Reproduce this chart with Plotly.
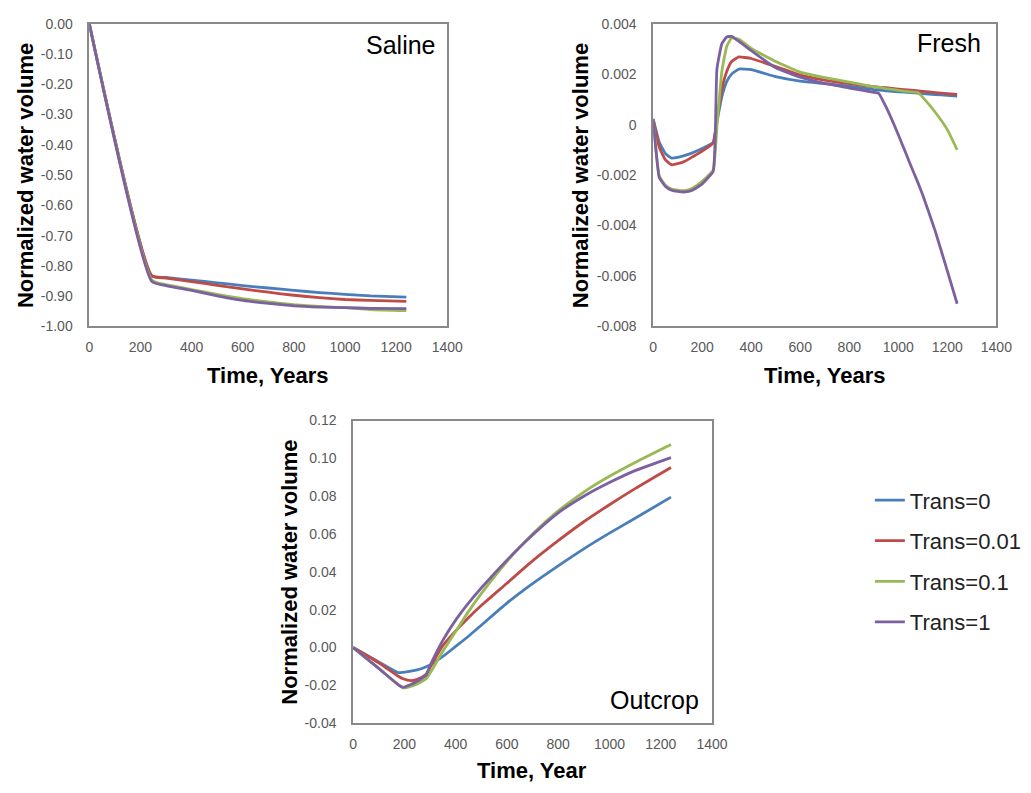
import plotly.graph_objects as go

# ---------------- data ----------------
series_names = ["Trans=0", "Trans=0.01", "Trans=0.1", "Trans=1"]
series_colors = ["#4a7ebb", "#be4b48", "#98b954", "#7d60a0"]

# Saline aquifer
saline_time = [0, 245, 300, 400, 500, 600, 700, 800, 900, 1000, 1100, 1240]
saline_t0 = [0, -0.833, -0.838, -0.847, -0.856, -0.865, -0.873, -0.881, -0.888, -0.894, -0.899, -0.903]
saline_t001 = [0, -0.833, -0.840, -0.852, -0.864, -0.876, -0.887, -0.897, -0.905, -0.911, -0.914, -0.917]
saline_t01 = [0, -0.847, -0.862, -0.878, -0.894, -0.908, -0.919, -0.928, -0.934, -0.938, -0.944, -0.948]
saline_t1 = [0, -0.852, -0.865, -0.881, -0.899, -0.914, -0.924, -0.932, -0.936, -0.938, -0.940, -0.941]

# Fresh aquifer
fresh_time = [0, 25, 50, 75, 100, 130, 160, 200, 245, 260, 280, 300, 320, 350, 400, 500,
              600, 700, 800, 900, 920, 950, 1000, 1050, 1080, 1100, 1150, 1200, 1240]
fresh_t0 = [0.00023, -0.0007, -0.00115, -0.00133, -0.0013, -0.00122, -0.00112, -0.00095, -0.0007,
            0.0001, 0.0011, 0.0017, 0.0020, 0.0022, 0.00218, 0.0019, 0.00172, 0.00162, 0.00152,
            0.00139, 0.00137, 0.00134, 0.0013, 0.00127, 0.00125, 0.00123, 0.00119, 0.00116, 0.00113]
fresh_t001 = [0.0002, -0.0009, -0.0014, -0.00159, -0.00155, -0.00145, -0.00128, -0.00105, -0.00073,
              0.0002, 0.0014, 0.0021, 0.0025, 0.00268, 0.00262, 0.0023, 0.00196, 0.00176, 0.00162,
              0.0015, 0.00148, 0.00146, 0.00141, 0.00137, 0.00134, 0.00132, 0.00127, 0.00123, 0.0012]
fresh_t01 = [0.0002, -0.00205, -0.0024, -0.00255, -0.0026, -0.00262, -0.00252, -0.00225, -0.0018,
             -0.0001, 0.0021, 0.0031, 0.00343, 0.00338, 0.00302, 0.0025, 0.00208, 0.00186, 0.00168,
             0.0015, 0.00148, 0.00143, 0.00136, 0.0013, 0.00127, 0.00108, 0.0005, -0.0002, -0.001]
fresh_t1 = [0.0002, -0.0021, -0.00245, -0.0026, -0.00265, -0.00267, -0.0026, -0.00235, -0.00185,
            0.0022, 0.0032, 0.00347, 0.0035, 0.0033, 0.00293, 0.00225, 0.00188, 0.00163, 0.00145,
            0.00128, 0.00124, 0.0007, -0.0004, -0.0016, -0.0023, -0.0028, -0.0042, -0.0058, -0.0071]

# Outcrop
outcrop_time = [0, 100, 175, 195, 225, 250, 285, 300, 350, 400, 450, 500, 600, 700, 800, 900, 1000, 1100, 1240]
outcrop_t0 = [0, -0.0076, -0.0132, -0.0131, -0.0125, -0.0118, -0.0101, -0.0092, -0.0047, 0.0006,
              0.006, 0.0118, 0.0235, 0.0338, 0.0432, 0.0522, 0.0605, 0.0683, 0.0795]
outcrop_t001 = [0, -0.008, -0.015, -0.0165, -0.0175, -0.0168, -0.0141, -0.0105, 0.001, 0.0088,
                0.0158, 0.0222, 0.034, 0.0458, 0.0565, 0.0665, 0.0755, 0.084, 0.0952]
outcrop_t01 = [0, -0.011, -0.0195, -0.0213, -0.0205, -0.0192, -0.0165, -0.0135, -0.002, 0.0085,
               0.019, 0.0285, 0.0455, 0.060, 0.0722, 0.0822, 0.0905, 0.0978, 0.1073]
outcrop_t1 = [0, -0.011, -0.0195, -0.021, -0.0195, -0.0178, -0.0145, -0.0096, 0.0038, 0.0145,
              0.0235, 0.0315, 0.0462, 0.0595, 0.0712, 0.080, 0.0872, 0.0935, 0.1004]

# tick labels
time_ticks = [0, 200, 400, 600, 800, 1000, 1200, 1400]
saline_ticks = [0.0, -0.1, -0.2, -0.3, -0.4, -0.5, -0.6, -0.7, -0.8, -0.9, -1.0]
saline_ticktext = ["0.00", "-0.10", "-0.20", "-0.30", "-0.40", "-0.50", "-0.60", "-0.70", "-0.80", "-0.90", "-1.00"]
fresh_ticks = [0.004, 0.002, 0, -0.002, -0.004, -0.006, -0.008]
fresh_ticktext = ["0.004", "0.002", "0", "-0.002", "-0.004", "-0.006", "-0.008"]
outcrop_ticks = [0.12, 0.10, 0.08, 0.06, 0.04, 0.02, 0.0, -0.02, -0.04]
outcrop_ticktext = ["0.12", "0.10", "0.08", "0.06", "0.04", "0.02", "0.00", "-0.02", "-0.04"]

# ---------------- figure ----------------
W, H = 1031, 793


def fx(px):
    return px / W


def fy(py):
    return 1 - py / H


fig = go.Figure()

panels = [
    ("x", "y", saline_time, [saline_t0, saline_t001, saline_t01, saline_t1], 0.5),
    ("x2", "y2", fresh_time, [fresh_t0, fresh_t001, fresh_t01, fresh_t1], 0.35),
    ("x3", "y3", outcrop_time, [outcrop_t0, outcrop_t001, outcrop_t01, outcrop_t1], 0.6),
]

for p, (xa, ya, t, ys, smooth) in enumerate(panels):
    for i, vals in enumerate(ys):
        fig.add_trace(go.Scatter(
            x=t, y=vals, mode="lines", xaxis=xa, yaxis=ya,
            name=series_names[i], legendgroup=series_names[i],
            showlegend=(p == 0),
            line=dict(color=series_colors[i], width=2.8, shape="spline", smoothing=smooth),
        ))

tick_font = dict(family="Liberation Sans, Arial, sans-serif", size=14, color="#595959")
frame = dict(showline=True, mirror=True, linecolor="#898989", linewidth=1.6,
             showgrid=False, zeroline=False, ticks="", tickfont=tick_font)

x_common = dict(range=[0, 1400], tickvals=time_ticks, ticklabelstandoff=7, **frame)

fig.update_layout(
    width=W, height=H,
    margin=dict(l=0, r=0, t=0, b=0),
    paper_bgcolor="white", plot_bgcolor="white",
    xaxis=dict(domain=[fx(87), fx(452)], anchor="y", **x_common),
    yaxis=dict(domain=[fy(325), fy(16)], anchor="x", range=[-1.0, 0.0],
               tickvals=saline_ticks, ticktext=saline_ticktext, ticklabelstandoff=12, **frame),
    xaxis2=dict(domain=[fx(662), fx(1012)], anchor="y2", **x_common),
    yaxis2=dict(domain=[fy(325), fy(16)], anchor="x2", range=[-0.008, 0.004],
                tickvals=fresh_ticks, ticktext=fresh_ticktext, ticklabelstandoff=12, **frame),
    xaxis3=dict(domain=[fx(356), fx(722)], anchor="y3", **x_common),
    yaxis3=dict(domain=[fy(730), fy(421)], anchor="x3", range=[-0.04, 0.12],
                tickvals=outcrop_ticks, ticktext=outcrop_ticktext, ticklabelstandoff=12, **frame),
    legend=dict(
        x=fx(883), y=fy(481), xanchor="left", yanchor="top",
        font=dict(family="Liberation Sans, Arial, sans-serif", size=22, color="#222222"),
        bgcolor="rgba(0,0,0,0)", borderwidth=0,
        traceorder="grouped", tracegroupgap=9, itemwidth=30,
    ),
)

title_font = dict(family="Liberation Sans, Arial, sans-serif", size=22, color="black")
label_font = dict(family="Liberation Sans, Arial, sans-serif", size=25, color="black")

annotations = [
    # y-axis titles
    dict(text="<b>Normalized water volume</b>", x=fx(22), y=fy(171), textangle=-90, font=title_font),
    dict(text="<b>Normalized water volume</b>", x=fx(588), y=fy(171), textangle=-90, font=title_font),
    dict(text="<b>Normalized water volume</b>", x=fx(291), y=fy(576), textangle=-90, font=title_font),
    # x-axis titles
    dict(text="<b>Time, Years</b>", x=fx(269), y=fy(375), font=title_font),
    dict(text="<b>Time, Years</b>", x=fx(837), y=fy(375), font=title_font),
    dict(text="<b>Time, Year</b>", x=fx(538), y=fy(778), font=title_font),
]
for a in annotations:
    a.update(xref="paper", yref="paper", showarrow=False, xanchor="center", yanchor="middle")

panel_labels = [
    dict(text="Saline", x=fx(443), y=fy(38)),
    dict(text="Fresh", x=fx(998), y=fy(36)),
    dict(text="Outcrop", x=fx(711), y=fy(706)),
]
for a in panel_labels:
    a.update(xref="paper", yref="paper", showarrow=False, xanchor="right", yanchor="middle",
             font=label_font)

fig.update_layout(annotations=annotations + panel_labels)

fig.write_html("out.html")
